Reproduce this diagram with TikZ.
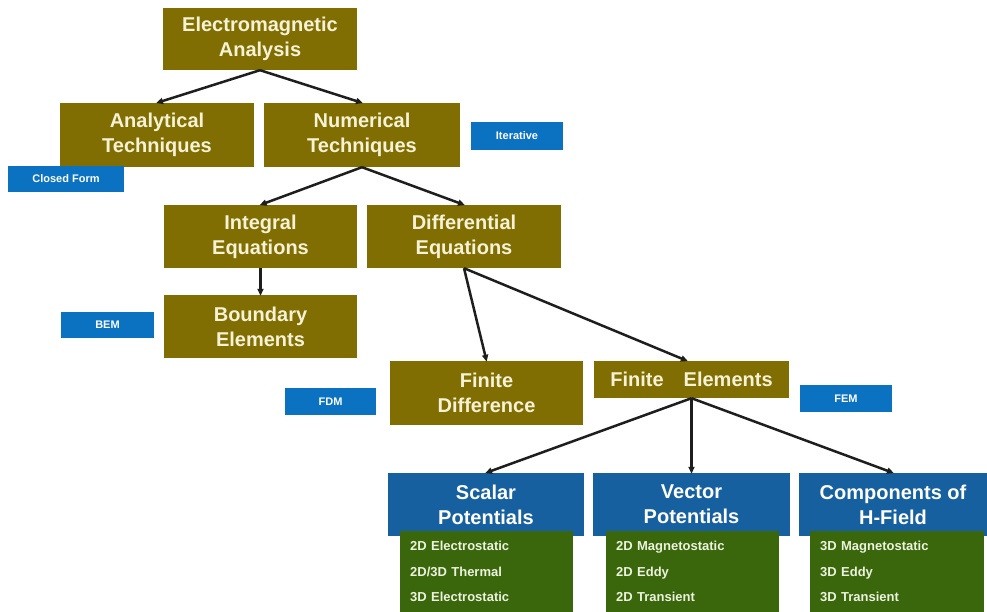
\documentclass[tikz,border=0pt]{standalone}
\usepackage{fontspec}
\setmainfont{Liberation Sans}
\usetikzlibrary{arrows.meta}

\definecolor{olivebox}{RGB}{128,110,2}
\definecolor{olivetext}{RGB}{246,242,214}
\definecolor{tagblue}{RGB}{10,114,192}
\definecolor{potblue}{RGB}{22,96,160}
\definecolor{listgreen}{RGB}{58,102,12}
\definecolor{listtext}{RGB}{236,242,222}
\definecolor{wire}{RGB}{30,30,30}

\tikzset{
  methodbox/.style={rectangle, fill=olivebox, text=olivetext, align=center,
    inner sep=0pt, font=\bfseries\fontsize{20}{25}\selectfont},
  tagbox/.style={rectangle, fill=tagblue, text=white, align=center,
    inner sep=0pt, font=\bfseries\fontsize{11}{13}\selectfont},
  potbox/.style={rectangle, fill=potblue, text=white, align=center,
    inner sep=0pt, font=\bfseries\fontsize{20}{25}\selectfont},
  listbox/.style={rectangle, fill=listgreen, text=listtext, align=left,
    anchor=north west, inner xsep=10pt, inner ysep=0pt,
    font=\bfseries\fontsize{13}{25.5}\selectfont},
  link/.style={draw=wire, line width=2.5pt,
    -{Triangle[length=7pt,width=6pt]}, shorten >=-1pt}
}

\begin{document}
\begin{tikzpicture}[x=1pt,y=-1pt]
\useasboundingbox (0,0) rectangle (987,612);
\clip (0,0) rectangle (987,612);

% technique hierarchy
\node[methodbox, minimum width=194pt, minimum height=62pt] (ea) at (260,39) {Electromagnetic\\Analysis};
\node[methodbox, minimum width=194pt, minimum height=64pt] (ana) at (157,135) {Analytical\\Techniques};
\node[methodbox, minimum width=196pt, minimum height=64pt] (num) at (362,135) {Numerical\\Techniques};
\node[methodbox, minimum width=193pt, minimum height=63pt] (integ) at (260.5,236.5) {Integral\\Equations};
\node[methodbox, minimum width=194pt, minimum height=63pt] (diff) at (464,236.5) {Differential\\Equations};
\node[methodbox, minimum width=193pt, minimum height=63pt] (bound) at (260.5,326.5) {Boundary\\Elements};
\node[methodbox, minimum width=193pt, minimum height=64pt] (fdiff) at (486.5,393) {Finite\\Difference};
\node[methodbox, minimum width=195pt, minimum height=37pt] (fel) at (691.5,379.5) {Finite\hspace{20pt}Elements};

% short method tags
\node[tagbox, minimum width=92pt, minimum height=28pt] (iter) at (517,136) {Iterative};
\node[tagbox, minimum width=116pt, minimum height=26pt] (closed) at (66,179) {Closed Form};
\node[tagbox, minimum width=93pt, minimum height=26pt] (bem) at (107.5,325) {BEM};
\node[tagbox, minimum width=91pt, minimum height=27pt] (fdm) at (330.5,401.5) {FDM};
\node[tagbox, minimum width=92pt, minimum height=27pt] (fem) at (846,398.5) {FEM};

% formulations
\node[potbox, minimum width=196pt, minimum height=63pt] (scal) at (486,504.5) {Scalar\\Potentials};
\node[potbox, minimum width=197pt, minimum height=63pt] (vec) at (691.5,504.5) {Vector\\Potentials};
\node[potbox, minimum width=188pt, minimum height=63pt] (comp) at (893,504.5) {Components of\\H-Field};

% problem types per formulation
\node[listbox, minimum width=173pt, minimum height=81pt, text width=153pt] (scallist) at (400,531)
  {2D Electrostatic\\2D/3D Thermal\\3D Electrostatic};
\node[listbox, minimum width=173pt, minimum height=81pt, text width=153pt] (veclist) at (606,531)
  {2D Magnetostatic\\2D Eddy\\2D Transient};
\node[listbox, minimum width=174pt, minimum height=81pt, text width=154pt] (complist) at (810,531)
  {3D Magnetostatic\\3D Eddy\\3D Transient};

% connectors
\draw[link] (ea.south) -- (ana.north);
\draw[link] (ea.south) -- (num.north);
\draw[link] (num.south) -- (integ.north);
\draw[link] (num.south) -- (diff.north);
\draw[link] (integ.south) -- (bound.north);
\draw[link] (diff.south) -- (fdiff.north);
\draw[link] (diff.south) -- (fel.north -| 687,0);
\draw[link] (fel.south) -- (scal.north);
\draw[link] (fel.south) -- (vec.north);
\draw[link] (fel.south) -- (comp.north);
\end{tikzpicture}
\end{document}
